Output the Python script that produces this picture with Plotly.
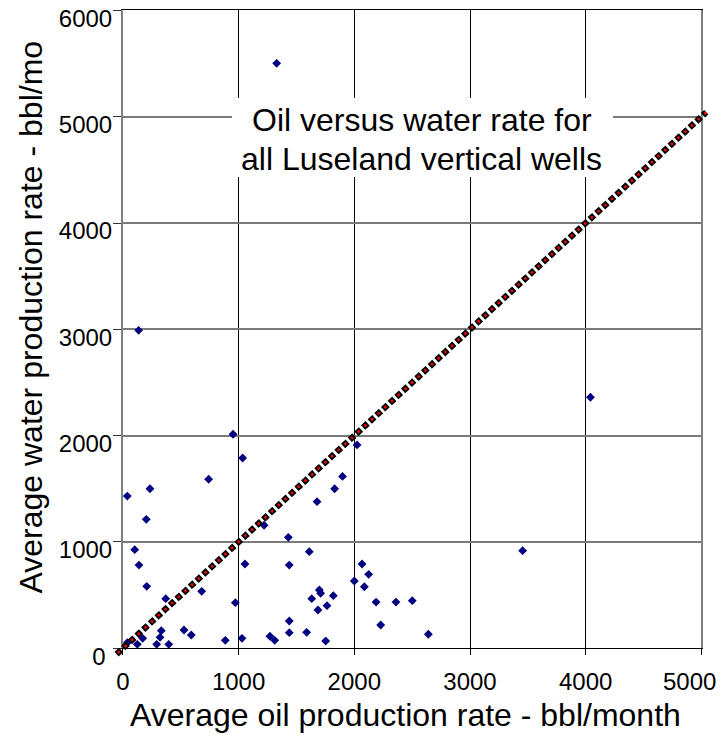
import plotly.graph_objects as go

# ---------------- data ----------------
oil_rate = [952, 1035, 741, 234, 38, 202, 1220, 1430, 102, 1611, 139, 1055, 1438, 206,
            370, 681, 972, 1438, 1632, 1698, 1709, 1819, 1686, 1764, 2000, 332, 321,
            171, 125, 292, 396, 528, 591, 885, 1029, 1271, 1312, 1438, 1588, 1753, 38,
            2024, 1898, 1830, 1678, 3455, 2067, 2124, 2087, 2188, 2360, 2501, 2228,
            2640, 1329, 136, 4041]
water_rate = [2013, 1790, 1590, 1501, 1432, 1213, 1157, 1044, 928, 909, 783, 793, 783,
              583, 467, 536, 429, 257, 467, 548, 517, 495, 360, 401, 633, 166, 103, 94,
              37, 37, 37, 172, 125, 75, 94, 113, 75, 147, 150, 69, 53, 1913, 1617,
              1501, 1379, 918, 793, 696, 579, 435, 435, 448, 219, 132, 5502, 2991, 2361]

# 1:1 reference line end points
ref_x = [-55, 5042]
ref_y = [-55, 5042]

x_ticks = [0, 1000, 2000, 3000, 4000, 5000]
x_ticktext = ["0", "1000", "2000", "3000", "4000", ""]   # last label drawn pulled inward
x_last_label = "5000"
y_ticks = [0, 1000, 2000, 3000, 4000, 5000, 6000]
y_ticktext = ["0&nbsp;", "1000", "2000", "3000", "4000", "5000", "6000"]

title_lines = ["Oil versus water rate for", "all Luseland vertical wells"]
x_title = "Average oil production rate - bbl/month"
y_title = "Average water production rate - bbl/mo"

# ---------------- layout geometry (pixels) ----------------
W, H = 724, 736
ML, MR, MT, MB = 114, 14, 4, 79
PW = W - ML - MR
PH = H - MT - MB

X0_PX, X1_PX = 122.9, 701.4      # x = 0 and x = 5000
Y0_PX, Y1_PX = 648.3, 10.4       # y = 0 and y = 6000
XMAX, YMAX = 5000, 6000


def px_x(px):
    return (px - ML) / PW


def px_y(py):
    return (H - MB - py) / PH


sx = (X1_PX - X0_PX) / XMAX
sy = (Y0_PX - Y1_PX) / YMAX
x2_range = [(ML - X0_PX) / sx, (ML + PW - X0_PX) / sx]
y2_range = [(Y0_PX - (H - MB)) / sy, (Y0_PX - MT) / sy]

# offset (in data units along y = x) so the red dots sit in the black blocks
px_per_unit = (sx ** 2 + sy ** 2) ** 0.5
RED_OFFSET = 1.9 / px_per_unit
red_x = [v + RED_OFFSET for v in ref_x]
red_y = [v + RED_OFFSET for v in ref_y]

FONT = "Liberation Sans, Arial, sans-serif"

fig = go.Figure()

fig.add_trace(go.Scatter(
    x=oil_rate, y=water_rate, mode="markers",
    marker=dict(symbol="diamond", size=6.8, color="#000080", line=dict(width=0)),
    xaxis="x", yaxis="y", showlegend=False, hoverinfo="x+y"))

# dotted 1:1 line: black blocks with red centres
fig.add_trace(go.Scatter(
    x=ref_x, y=ref_y, mode="lines",
    line=dict(color="black", width=6.2, dash="6.2px,2.85px"),
    xaxis="x2", yaxis="y2", showlegend=False, hoverinfo="skip"))
fig.add_trace(go.Scatter(
    x=red_x, y=red_y, mode="lines",
    line=dict(color="#ff0000", width=2.6, dash="2.4px,6.65px"),
    xaxis="x2", yaxis="y2", showlegend=False, hoverinfo="skip"))

fig.update_layout(
    width=W, height=H,
    margin=dict(l=ML, r=MR, t=MT, b=MB, pad=0, autoexpand=False),
    paper_bgcolor="white", plot_bgcolor="rgba(0,0,0,0)",
    font=dict(family=FONT, color="black"),
    xaxis=dict(
        domain=[px_x(X0_PX), px_x(X1_PX)], range=[0, XMAX],
        tickmode="array", tickvals=x_ticks, ticktext=x_ticktext,
        tickfont=dict(size=24, family=FONT, color="black"),
        ticks="outside", ticklen=6, tickcolor="black", tickwidth=1,
        ticklabelstandoff=6, ticklabeloverflow="allow", automargin=False,
        showgrid=True, gridcolor="black", gridwidth=1,
        showline=True, linecolor="black", linewidth=1, mirror=True,
        zeroline=False, anchor="y", fixedrange=True),
    yaxis=dict(
        domain=[px_y(Y0_PX), px_y(Y1_PX)], range=[0, YMAX],
        tickmode="array", tickvals=y_ticks, ticktext=y_ticktext,
        tickfont=dict(size=24, family=FONT, color="black"),
        ticks="outside", ticklen=8, tickcolor="#333333", tickwidth=1,
        ticklabelshift=8, ticklabelstandoff=-4, ticklabeloverflow="allow",
        automargin=False,
        showgrid=True, gridcolor="#7a7a7a", gridwidth=1.6,
        showline=True, linecolor="#808080", linewidth=1.8, mirror=True,
        zeroline=False, anchor="x", fixedrange=True),
    xaxis2=dict(domain=[0, 1], range=x2_range, visible=False, anchor="y2",
                fixedrange=True, automargin=False),
    yaxis2=dict(domain=[0, 1], range=y2_range, visible=False, anchor="x2",
                fixedrange=True, automargin=False),
    shapes=[dict(type="rect", xref="paper", yref="paper",
                 x0=px_x(232), x1=px_x(613), y0=px_y(177), y1=px_y(98),
                 fillcolor="white", line=dict(width=0), layer="above")],
    annotations=[
        dict(text=title_lines[0], xref="paper", yref="paper",
             x=px_x(421.7), y=px_y(120.5), xanchor="center", yanchor="middle",
             showarrow=False, font=dict(size=32, family=FONT, color="black")),
        dict(text=title_lines[1], xref="paper", yref="paper",
             x=px_x(421.7), y=px_y(158.5), xanchor="center", yanchor="middle",
             showarrow=False, font=dict(size=32, family=FONT, color="black")),
        dict(text=x_title, xref="paper", yref="paper",
             x=px_x(405.5), y=px_y(715), xanchor="center", yanchor="middle",
             showarrow=False, font=dict(size=32, family=FONT, color="black")),
        dict(text=y_title, xref="paper", yref="paper", textangle=-90,
             x=px_x(30.5), y=px_y(317), xanchor="center", yanchor="middle",
             showarrow=False, font=dict(size=32, family=FONT, color="black")),
        dict(text=x_last_label, xref="paper", yref="paper",
             x=px_x(689.5), y=px_y(681), xanchor="center", yanchor="middle",
             showarrow=False, font=dict(size=24, family=FONT, color="black")),
    ],
)

fig.write_html("out.html")
